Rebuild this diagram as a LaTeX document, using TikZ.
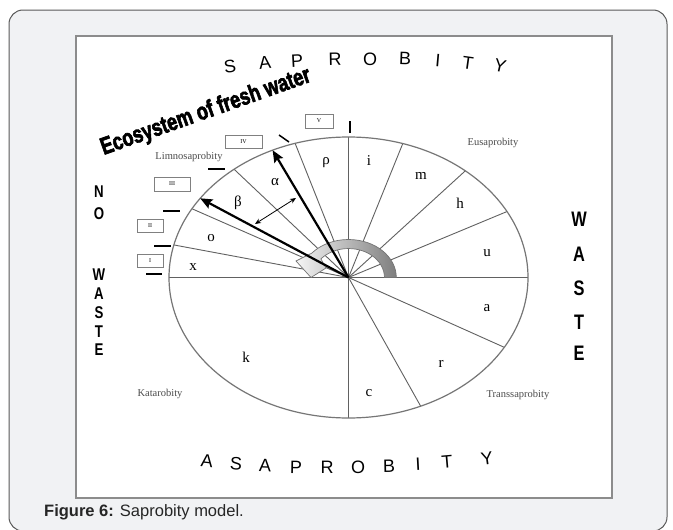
\documentclass[tikz,border=0pt]{standalone}
\usepackage{fontspec}
\setmainfont{Liberation Serif}
\setsansfont{Liberation Sans}
\newfontfamily\heavyfont[BoldFeatures={FakeBold=3}]{Liberation Sans}
\usetikzlibrary{arrows.meta, positioning, calc}
\definecolor{framegray}{HTML}{F1F2F4}
\definecolor{rimgray}{HTML}{767676}
\definecolor{bandgray}{HTML}{7E7E7E}

\begin{document}
\begin{tikzpicture}[x=1pt, y=-1pt,
    spoke/.style={draw=black!62, line width=0.9pt},
    sector/.style={font=\fontsize{15}{15}\selectfont},
    zone/.style={font=\fontsize{10.5}{12}\selectfont, text=black!70},
    bigletter/.style={font=\sffamily\fontsize{18}{18}\selectfont},
    sideletter/.style={font=\sffamily\bfseries\fontsize{17}{17}\selectfont, xscale=0.78},
    numbox/.style={draw=black!50, line width=0.8pt, inner sep=0pt,
                   font=\fontsize{6}{6}\selectfont},
    marker/.style={line width=1.5pt, black},
    bigarrow/.style={line width=2.2pt, -{Stealth[length=12pt, width=10pt, inset=2pt]}}
  ]
  \useasboundingbox (0,0) rectangle (673,530);
  % card and white panel
  \draw[black!65, line width=1pt, fill=framegray, rounded corners=14pt]
    (9,10) rectangle (667,531);
  \draw[black!45, line width=1.6pt, fill=white] (76,36) rectangle (612,498);

  % ellipse and its sectors
  \coordinate (ctr) at (348.5,277.5);
  \foreach \n/\t in {east/0, hu/28, mh/49.4, im/72.4, north/90, ra/107.3,
                     ab/129.6, bo/150.7, ox/166.6, west/180,
                     ar/-29.8, rc/-66.3, south/-90} {
    \coordinate (rim-\n) at ({348.5+179.5*cos(\t)}, {277.5-140.5*sin(\t)});
    \draw[spoke] (ctr) -- (rim-\n);
  }
  \draw[rimgray, line width=1.2pt] (ctr) ellipse [x radius=179.5pt, y radius=140.5pt];

  % grey turning arrow
  \draw[black!55, line width=0.7pt, left color=black!4, right color=bandgray]
    (396.3,277.5) arc[start angle=0, end angle=140, x radius=47.8pt, y radius=38pt]
    -- (296,261) -- (311,277.5) -- (326,268) -- (320.9,258.9)
    arc[start angle=140, end angle=0, x radius=36pt, y radius=29pt] -- cycle;

  % alpha and beta limits
  \coordinate (tip-alpha) at (272.6,150.2);
  \coordinate (tip-beta) at (200.2,198.3);
  \draw[bigarrow] (ctr) -- (tip-alpha);
  \draw[bigarrow] (ctr) -- (tip-beta);
  \coordinate (span-a) at (255,224);
  \coordinate (span-b) at (296,198);
  \draw[line width=0.8pt, {Stealth[length=6pt, width=5pt]}-{Stealth[length=6pt, width=5pt]}]
    (span-a) -- (span-b);

  % sector letters
  \foreach \n/\p/\t in {rho/{326,163}/ρ, i/{369,161}/i, m/{421,176}/m,
                        h/{460,203}/h, u/{487,253}/u, alpha/{275,182}/α,
                        beta/{238,203}/β, o/{211,238}/o, x/{193,267}/x,
                        a/{487,308}/a, r/{441,364}/r, c/{369,393}/c,
                        k/{246,357}/k}
    \node[sector] (sec-\n) at (\p) {\t};

  % zones
  \node[zone] (limno) at (189,157) {Limnosaprobity};
  \node[zone] (eusa) at (493,143) {Eusaprobity};
  \node[zone] (kata) at (160,394) {Katarobity};
  \node[zone] (trans) at (518,395) {Transsaprobity};

  % degree boxes and marks
  \node[numbox, minimum width=28pt, minimum height=14pt] (deg-v) at (319,121) {V};
  \node[numbox, minimum width=37pt, minimum height=13pt] (deg-iv) at (243.5,141.5) {IV};
  \node[numbox, minimum width=36pt, minimum height=14pt] (deg-iii) at (172,184) {III};
  \node[numbox, minimum width=26pt, minimum height=13pt] (deg-ii) at (150,225.5) {II};
  \node[numbox, minimum width=26pt, minimum height=13pt] (deg-i) at (150,260.5) {I};
  \draw[marker] (350,121) -- (350,133);
  \draw[marker] (279,135) -- (289,142);
  \draw[marker] (208,169) -- (225,169);
  \draw[marker] (163,211) -- (180,211);
  \draw[marker] (154,246) -- (171,246);
  \draw[marker] (146,274) -- (162,274);

  % headline
  \node[font=\heavyfont\bfseries\fontsize{24}{24}\selectfont, anchor=base,
        rotate=19.5, xscale=0.76] (eco) at (208,118) {Ecosystem of fresh water};

  % SAPROBITY / ASAPROBITY
  \foreach \l/\x/\y/\r [count=\i] in {S/230/67/8, A/265/63/6, P/297/61/3, R/335/59/1,
                           O/370/59/0, B/405/59/-2, I/438/61/-5, T/468/63/-8, Y/500/66/-13}
    \node[bigletter, rotate=\r] (top-\i) at (\x,\y) {\l};
  \foreach \l/\x/\y/\r [count=\i] in {A/207/461/-6, S/236/464/-4, A/265/466/-2, P/296/467/-1,
                           R/327/467/0, O/358/467/0, B/389/466/1, I/418/464/3,
                           T/447/462/5, Y/487/459/8}
    \node[bigletter, rotate=\r] (bot-\i) at (\x,\y) {\l};

  % NO WASTE / WASTE
  \foreach \l/\y [count=\i] in {N/192, O/214, W/275, A/294, S/313, T/332, E/350}
    \node[sideletter] (left-\i) at (99,\y) {\l};
  \foreach \l/\y [count=\i] in {W/219, A/254, S/288, T/322, E/353}
    \node[sideletter, font=\sffamily\bfseries\fontsize{21}{21}\selectfont] (right-\i) at (579,\y) {\l};

  % caption
  \node[anchor=base west, inner sep=0pt, font=\sffamily\fontsize{16.5}{18}\selectfont, text=black!85]
    (caption) at (44,516) {\textbf{Figure 6:} Saprobity model.};
\end{tikzpicture}
\end{document}
